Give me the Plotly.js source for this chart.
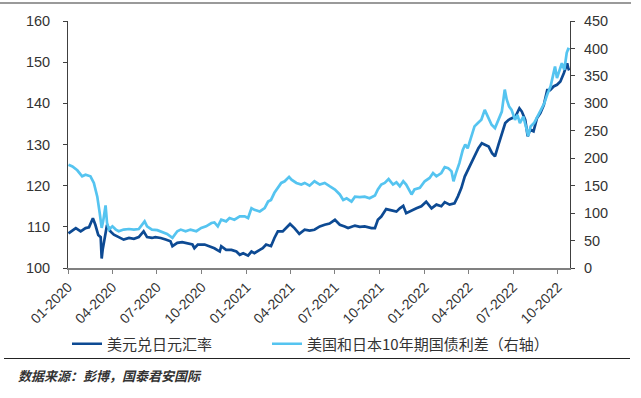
<!DOCTYPE html>
<html>
<head>
<meta charset="utf-8">
<script src="https://cdn.plot.ly/plotly-3.0.1.min.js"></script>
<style>
  html, body { margin: 0; padding: 0; background: #fff; }
  #wrap { position: relative; width: 641px; height: 398px; }
  #chart { position: absolute; left: 0; top: 0; width: 641px; height: 398px; }
  .rule-top { position: absolute; left: 0; top: 2px; width: 631px; height: 2px; background: #9a9a9a; }
  .rule-bottom { position: absolute; left: 4px; top: 358px; width: 626px; height: 1px; background: #222; }
</style>
</head>
<body>
<div id="wrap">
  <div id="chart"></div>
  <div class="rule-top"></div>
  <div class="rule-bottom"></div>
</div>
<script>
// USD/JPY (left axis)
const fxDates = [
 '2020-01-02','2020-01-10','2020-01-17','2020-01-27','2020-02-06','2020-02-13','2020-02-21','2020-02-26',
 '2020-03-03','2020-03-08','2020-03-10','2020-03-12','2020-03-16','2020-03-19','2020-03-21','2020-03-28',
 '2020-04-04','2020-04-14','2020-04-24','2020-05-05','2020-05-15','2020-05-25','2020-06-04','2020-06-11',
 '2020-06-21','2020-06-28','2020-07-09','2020-07-19','2020-07-29','2020-08-02','2020-08-12','2020-08-22',
 '2020-09-01','2020-09-12','2020-09-16','2020-09-23','2020-10-07','2020-10-17','2020-10-27','2020-11-07',
 '2020-11-10','2020-11-20','2020-12-01','2020-12-11','2020-12-18','2020-12-25','2021-01-04','2021-01-11',
 '2021-01-17','2021-01-28','2021-02-03','2021-02-10','2021-02-20','2021-02-27','2021-03-06','2021-03-16',
 '2021-03-23','2021-03-31','2021-04-09','2021-04-19','2021-04-30','2021-05-10','2021-05-20','2021-05-31',
 '2021-06-10','2021-06-20','2021-07-01','2021-07-11','2021-07-21','2021-07-28','2021-08-11','2021-08-21',
 '2021-08-31','2021-09-14','2021-09-21','2021-09-27','2021-10-04','2021-10-14','2021-10-25','2021-11-04',
 '2021-11-11','2021-11-18','2021-11-24','2021-12-05','2021-12-15','2021-12-25','2022-01-04','2022-01-15',
 '2022-01-25','2022-02-04','2022-02-11','2022-02-21','2022-03-03','2022-03-10','2022-03-17','2022-03-24',
 '2022-03-31','2022-04-07','2022-04-14','2022-04-21','2022-04-28','2022-05-05','2022-05-12','2022-05-19',
 '2022-05-25','2022-06-01','2022-06-08','2022-06-15','2022-06-22','2022-06-29','2022-07-06','2022-07-14',
 '2022-07-19','2022-07-26','2022-07-31','2022-08-05','2022-08-12','2022-08-19','2022-08-26','2022-09-02',
 '2022-09-09','2022-09-15','2022-09-22','2022-09-29','2022-10-06','2022-10-13','2022-10-20','2022-10-22',
 '2022-10-24'
];
const fxValues = [
 108.4,109.2,109.7,108.9,109.7,109.9,112.1,110.5,
 108.0,107.5,102.3,104.4,106.9,109.7,110.5,108.9,
 108.1,107.5,106.9,107.3,107.1,107.5,108.9,107.5,
 107.3,107.5,107.3,106.9,106.5,105.3,106.1,106.3,
 106.1,105.7,104.8,105.7,105.7,105.3,104.8,104.0,
 105.3,104.4,104.4,104.0,103.2,103.6,103.0,104.0,
 103.6,104.4,104.8,105.7,105.3,107.3,108.9,108.9,
 109.7,110.7,109.7,108.3,109.3,109.1,109.3,110.1,
 110.5,110.8,111.7,110.5,110.1,109.7,110.3,110.0,
 110.1,109.7,109.7,111.7,112.5,114.3,114.0,113.7,
 114.5,115.1,113.3,114.0,114.5,115.0,116.1,114.5,
 115.4,115.0,116.0,115.4,115.7,117.4,119.4,122.2,
 123.9,125.5,127.5,129.1,130.3,129.9,129.5,127.9,
 127.1,129.9,132.3,135.2,136.0,136.4,136.8,138.8,
 138.0,136.0,132.0,133.6,133.2,136.4,137.6,139.6,
 143.2,143.2,144.1,144.5,145.3,147.3,149.7,148.6,
 148.0
];

// US-Japan 10Y yield spread, bp (right axis)
const spreadDates = [
 '2020-01-02','2020-01-10','2020-01-20','2020-01-30','2020-02-06','2020-02-16','2020-02-23','2020-03-01',
 '2020-03-06','2020-03-10','2020-03-13','2020-03-18','2020-03-21','2020-03-25','2020-04-01','2020-04-08',
 '2020-04-14','2020-04-24','2020-05-05','2020-05-15','2020-05-25','2020-06-06','2020-06-11','2020-06-21',
 '2020-07-02','2020-07-12','2020-07-22','2020-08-02','2020-08-12','2020-08-19','2020-08-29','2020-09-08',
 '2020-09-20','2020-09-30','2020-10-10','2020-10-21','2020-10-27','2020-11-03','2020-11-10','2020-11-20',
 '2020-11-27','2020-12-07','2020-12-18','2020-12-28','2021-01-04','2021-01-11','2021-01-17','2021-01-28',
 '2021-02-07','2021-02-14','2021-02-20','2021-02-27','2021-03-06','2021-03-13','2021-03-20','2021-03-29',
 '2021-04-03','2021-04-13','2021-04-23','2021-04-30','2021-05-10','2021-05-20','2021-05-31','2021-06-10',
 '2021-06-20','2021-07-01','2021-07-11','2021-07-18','2021-07-25','2021-08-04','2021-08-11','2021-08-21',
 '2021-08-31','2021-09-10','2021-09-21','2021-09-27','2021-10-04','2021-10-11','2021-10-19','2021-10-28',
 '2021-11-04','2021-11-11','2021-11-18','2021-11-24','2021-12-05','2021-12-11','2021-12-22','2022-01-01',
 '2022-01-11','2022-01-18','2022-01-25','2022-02-04','2022-02-11','2022-02-18','2022-02-25','2022-03-01',
 '2022-03-06','2022-03-13','2022-03-20','2022-03-25','2022-03-30','2022-04-06','2022-04-13','2022-04-20',
 '2022-04-27','2022-05-04','2022-05-11','2022-05-18','2022-05-25','2022-06-01','2022-06-08','2022-06-14',
 '2022-06-18','2022-06-23','2022-06-28','2022-07-05','2022-07-10','2022-07-15','2022-07-22','2022-07-29',
 '2022-08-01','2022-08-06','2022-08-13','2022-08-20','2022-08-27','2022-09-03','2022-09-09','2022-09-16',
 '2022-09-22','2022-09-25','2022-09-29','2022-10-04','2022-10-09','2022-10-14','2022-10-19','2022-10-22',
 '2022-10-25'
];
const spreadValues = [
 188,185,178,167,170,167,155,130,
 100,73,85,114,82,70,76,70,
 67,70,71,70,71,85,76,70,
 69,65,62,55,67,70,67,70,
 67,73,76,82,83,76,88,85,
 91,88,94,94,91,109,106,103,
 109,121,124,137,146,155,158,166,
 161,155,152,155,150,158,152,155,
 149,143,134,124,127,121,130,129,
 130,127,132,143,152,155,162,152,
 156,149,158,152,134,143,146,158,
 164,173,167,173,184,182,176,158,
 173,191,215,225,218,240,258,264,
 270,288,273,261,255,270,285,325,
 307,294,288,270,279,264,276,252,
 240,258,264,276,288,300,316,331,
 355,367,346,358,373,361,392,399,
 398
];

const legendNames = ['美元兑日元汇率', '美国和日本10年期国债利差（右轴）'];
const sourceNote = '数据来源：彭博，国泰君安国际';

const tickFont = { family: 'Liberation Sans, Arial, sans-serif', size: 14.5, color: '#333' };
const legendFont = { family: 'Noto Sans CJK SC, sans-serif', size: 15, color: '#333' };

const traces = [
  {
    x: fxDates, y: fxValues, type: 'scatter', mode: 'lines',
    name: legendNames[0],
    line: { color: '#0d4a93', width: 2.7 },
    yaxis: 'y', legend: 'legend'
  },
  {
    x: spreadDates, y: spreadValues, type: 'scatter', mode: 'lines',
    name: legendNames[1],
    line: { color: '#55c4f0', width: 2.7 },
    yaxis: 'y2', legend: 'legend2'
  }
];

const layout = {
  width: 641, height: 398,
  margin: { l: 68, r: 71, t: 21, b: 130, pad: 0 },
  paper_bgcolor: '#fff', plot_bgcolor: '#fff',
  showlegend: true,
  legend: {
    orientation: 'h',
    xref: 'container', yref: 'container',
    x: 67 / 641, y: (398 - 344) / 398,
    xanchor: 'left', yanchor: 'middle',
    font: legendFont,
    bgcolor: 'rgba(0,0,0,0)'
  },
  legend2: {
    orientation: 'h',
    xref: 'container', yref: 'container',
    x: 267 / 641, y: (398 - 344) / 398,
    xanchor: 'left', yanchor: 'middle',
    font: legendFont,
    bgcolor: 'rgba(0,0,0,0)'
  },
  xaxis: {
    type: 'date',
    range: ['2020-01-01', '2022-10-25 17:00'],
    tick0: '2020-01-01', dtick: 'M3',
    tickformat: '%m-%Y',
    tickangle: -45,
    ticks: 'outside', ticklen: 4, tickcolor: '#808080', tickwidth: 1,
    showline: true, linecolor: '#808080', linewidth: 1.5,
    showgrid: false, zeroline: false,
    tickfont: { family: 'Liberation Sans, Arial, sans-serif', size: 14, color: '#333' },
    fixedrange: true
  },
  yaxis: {
    range: [100, 160], dtick: 10,
    ticks: 'outside', ticklen: 4, tickcolor: '#404040', tickwidth: 1,
    showline: true, linecolor: '#404040', linewidth: 1,
    showgrid: false, zeroline: false,
    tickfont: tickFont,
    ticklabelstandoff: 10,
    fixedrange: true
  },
  yaxis2: {
    range: [0, 450], dtick: 50,
    overlaying: 'y', side: 'right',
    ticks: 'outside', ticklen: 4, tickcolor: '#404040', tickwidth: 1,
    showline: true, linecolor: '#404040', linewidth: 1,
    showgrid: false, zeroline: false,
    tickfont: tickFont,
    ticklabelstandoff: 6,
    fixedrange: true
  },
  annotations: [
    {
      text: sourceNote,
      xref: 'paper', yref: 'paper',
      x: -52 / 502, y: -(375 - 268) / 247,
      xanchor: 'left', yanchor: 'middle',
      showarrow: false,
      font: { family: 'Noto Sans CJK SC, sans-serif', size: 13, color: '#333', style: 'italic', weight: 'bold' }
    }
  ]
};

Plotly.newPlot('chart', traces, layout, { displayModeBar: false, staticPlot: true });
</script>
</body>
</html>
